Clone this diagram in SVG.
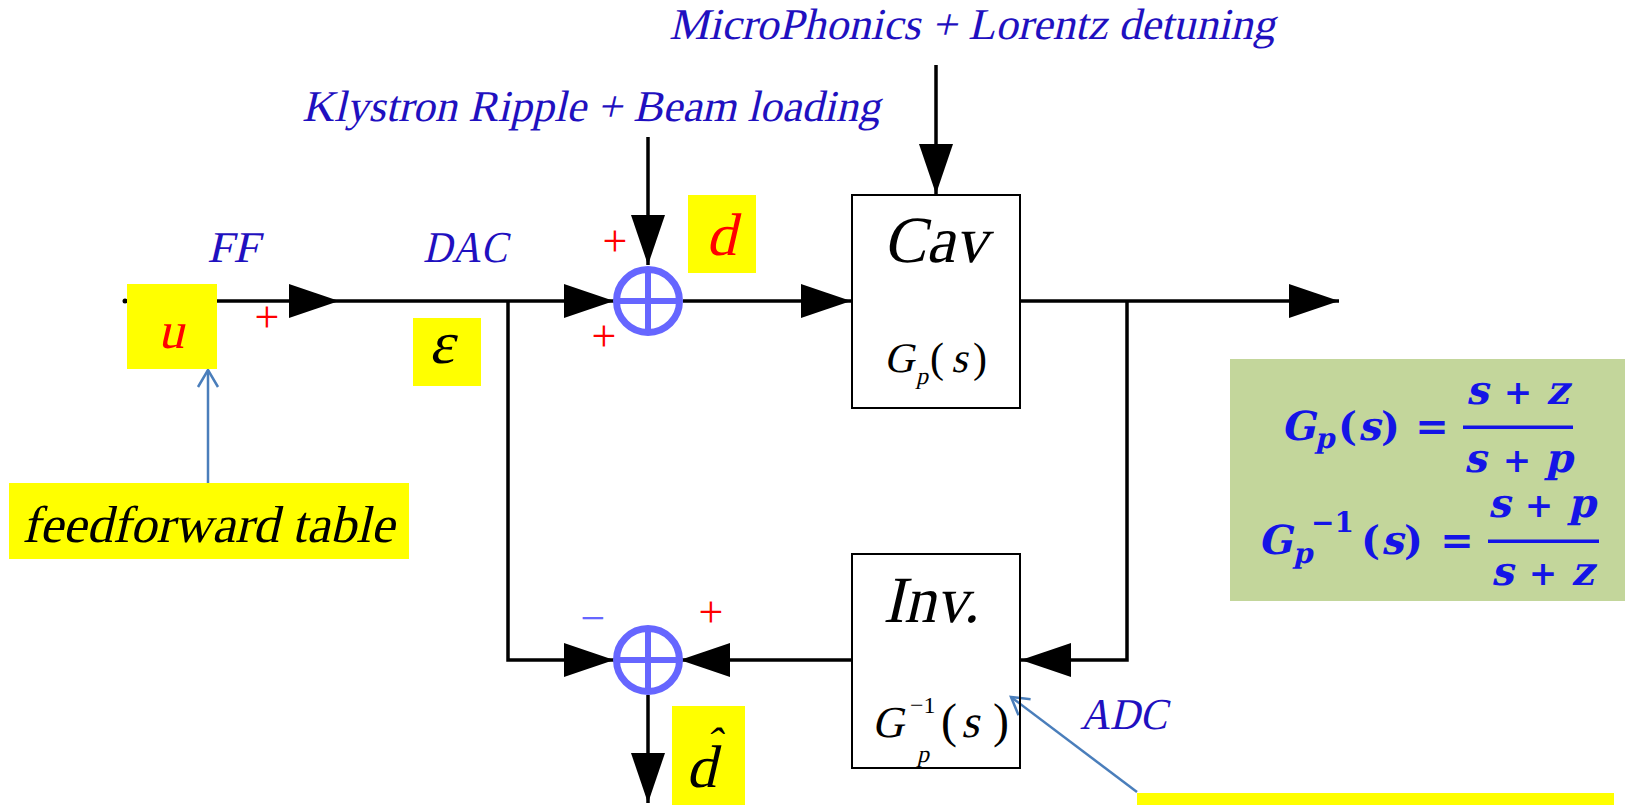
<svg xmlns="http://www.w3.org/2000/svg" width="1625" height="805" viewBox="0 0 1625 805">
<style>
.ln{stroke:#000;stroke-width:3.5;fill:none}
.bx{stroke:#000;stroke-width:2;fill:none}
.sum{stroke:#6666ff;stroke-width:7;fill:none}
.crs{stroke:#6666ff;stroke-width:6}
.blue{stroke:#4a7ebb;stroke-width:2.5;fill:none}
.yl{fill:#ffff00}
.ti{font-family:"Liberation Serif",serif;font-style:normal;fill:#000}
.up{font-family:"Liberation Serif",serif;fill:#000}
.lab{fill:#1f10c0;font-size:44px}
.pl{font-family:"Liberation Serif",serif;font-size:44px;fill:#ff0000}
.eq{font-family:"DejaVu Serif",serif;font-weight:bold;fill:#1414e6}
</style>
<defs>
<marker id="ah" markerUnits="userSpaceOnUse" markerWidth="50" markerHeight="34" refX="50" refY="17" orient="auto" viewBox="0 0 50 34"><path d="M0,0 L50,17 L0,34 z" fill="#000"/></marker>
<marker id="oa" markerUnits="userSpaceOnUse" markerWidth="24" markerHeight="24" refX="20" refY="12" orient="auto" viewBox="0 0 24 24" overflow="visible"><path d="M3,2 L20,12 L3,22" fill="none" stroke="#4a7ebb" stroke-width="2.5"/></marker>
</defs>
<rect width="1625" height="805" fill="#fff"/>

<g id="labels">
<text class="ti lab" transform="translate(669,39) skewX(-13)" textLength="606" lengthAdjust="spacingAndGlyphs">MicroPhonics + Lorentz detuning</text>
<text class="ti lab" transform="translate(302,121) skewX(-13)" font-size="45" textLength="578" lengthAdjust="spacingAndGlyphs">Klystron Ripple + Beam loading</text>
<text class="ti lab" transform="translate(207,262) skewX(-13)" textLength="52" lengthAdjust="spacingAndGlyphs">FF</text>
<text class="ti lab" transform="translate(423,262) skewX(-13)" textLength="84" lengthAdjust="spacingAndGlyphs">DAC</text>
<text class="ti lab" transform="translate(1080,729) skewX(-13)" textLength="87" lengthAdjust="spacingAndGlyphs">ADC</text>
</g>

<g id="connectors">
<circle cx="125" cy="301" r="2.5" fill="#000"/>
<line class="ln" x1="124" y1="301" x2="339" y2="301" marker-end="url(#ah)"/>
<line class="ln" x1="339" y1="301" x2="614" y2="301" marker-end="url(#ah)"/>
<polyline class="ln" points="508,301 508,660 614,660" marker-end="url(#ah)"/>
<line class="ln" x1="648" y1="137" x2="648" y2="265" marker-end="url(#ah)"/>
<line class="ln" x1="683" y1="301" x2="851" y2="301" marker-end="url(#ah)"/>
<line class="ln" x1="936" y1="65" x2="936" y2="194" marker-end="url(#ah)"/>
<line class="ln" x1="1020" y1="301" x2="1339" y2="301" marker-end="url(#ah)"/>
<polyline class="ln" points="1127,301 1127,660 1021,660" marker-end="url(#ah)"/>
<line class="ln" x1="852" y1="660" x2="680" y2="660" marker-end="url(#ah)"/>
<line class="ln" x1="648" y1="695" x2="648" y2="803" marker-end="url(#ah)"/>
<line class="blue" x1="208" y1="483" x2="208" y2="370" marker-end="url(#oa)"/>
<line class="blue" x1="1137" y1="792" x2="1011" y2="697" marker-end="url(#oa)"/>
</g>

<g id="u">
<rect class="yl" x="127" y="284" width="90" height="85"/>
<text class="ti" transform="translate(158,348) skewX(-13)" font-size="52" style="fill:#ff0000">u</text>
<text class="pl" x="267" y="332" text-anchor="middle">+</text>
</g>

<g id="epsilon">
<rect class="yl" x="413" y="318" width="68" height="68"/>
<text class="ti" transform="translate(429,363) skewX(-13)" font-size="60">ε</text>
</g>

<g id="sum1">
<circle class="sum" cx="648" cy="301" r="31.5"/>
<line class="crs" x1="617" y1="301" x2="679" y2="301"/>
<line class="crs" x1="648" y1="270" x2="648" y2="332"/>
<text class="pl" x="615" y="256" text-anchor="middle">+</text>
<text class="pl" x="604" y="351" text-anchor="middle">+</text>
</g>

<g id="d">
<rect class="yl" x="688" y="195" width="68" height="78"/>
<text class="ti" transform="translate(706,255) skewX(-13)" font-size="60" style="fill:#ff0000">d</text>
</g>

<g id="cav">
<rect class="bx" x="852" y="195" width="168" height="213"/>
<text class="ti" transform="translate(883,262) skewX(-13)" font-size="66" textLength="104" lengthAdjust="spacingAndGlyphs">Cav</text>
<text class="ti" transform="translate(884,372) skewX(-13)" font-size="42">G</text>
<text class="ti" transform="translate(916,384) skewX(-13)" font-size="24">p</text>
<text class="up" x="930" y="372" font-size="42">(</text>
<text class="ti" transform="translate(951,372) skewX(-13)" font-size="42">s</text>
<text class="up" x="973" y="372" font-size="42">)</text>
</g>

<g id="inv">
<rect class="bx" x="852" y="554" width="168" height="214"/>
<text class="ti" transform="translate(883,622) skewX(-13)" font-size="66" textLength="96" lengthAdjust="spacingAndGlyphs">Inv.</text>
<text class="ti" transform="translate(872,737) skewX(-13)" font-size="44">G</text>
<text class="up" x="910" y="713" font-size="24">−1</text>
<text class="ti" transform="translate(917,762) skewX(-13)" font-size="24">p</text>
<text class="up" x="941" y="737" font-size="48">(</text>
<text class="ti" transform="translate(961,737) skewX(-13)" font-size="46">s</text>
<text class="up" x="993" y="737" font-size="48">)</text>
</g>

<g id="sum2">
<circle class="sum" cx="648" cy="660" r="31.5"/>
<line class="crs" x1="617" y1="660" x2="679" y2="660"/>
<line class="crs" x1="648" y1="629" x2="648" y2="691"/>
<text class="up" x="593" y="633" font-size="44" style="fill:#6666ff" text-anchor="middle">−</text>
<text class="pl" x="711" y="627" text-anchor="middle">+</text>
</g>

<g id="dhat">
<rect class="yl" x="672" y="706" width="73" height="99"/>
<text class="ti" transform="translate(686,787) skewX(-13)" font-size="60">d<tspan x="12" y="-29" font-size="44">ˆ</tspan></text>
</g>

<g id="feedforward">
<rect class="yl" x="9" y="483" width="400" height="76"/>
<text class="ti" transform="translate(22,542) skewX(-13)" font-size="52" textLength="372" lengthAdjust="spacingAndGlyphs">feedforward table</text>
</g>

<g id="adcnote">
<rect class="yl" x="1137" y="793" width="477" height="12"/>
</g>

<g id="equations">
<rect x="1230" y="359" width="395" height="242" fill="#c3d69b"/>
<text class="eq" transform="translate(1281,440) skewX(-13)" font-size="40">G</text>
<text class="eq" transform="translate(1315,448) skewX(-13)" font-size="28">p</text>
<text class="eq" x="1338" y="440" font-size="40" font-weight="normal">(</text>
<text class="eq" transform="translate(1358,440) skewX(-13)" font-size="40">s</text>
<text class="eq" x="1381" y="440" font-size="40" font-weight="normal">)</text>
<text class="eq" x="1432" y="440" font-size="40" text-anchor="middle">=</text>
<text class="eq" transform="translate(1466,404) skewX(-13)" font-size="40">s</text>
<text class="eq" x="1518" y="404" font-size="34" text-anchor="middle">+</text>
<text class="eq" transform="translate(1546,404) skewX(-13)" font-size="40">z</text>
<rect x="1463" y="425.5" width="110" height="3.5" fill="#1414e6"/>
<text class="eq" transform="translate(1464,472) skewX(-13)" font-size="40">s</text>
<text class="eq" x="1517" y="472" font-size="34" text-anchor="middle">+</text>
<text class="eq" transform="translate(1545,472) skewX(-13)" font-size="40">p</text>

<text class="eq" transform="translate(1258,554) skewX(-13)" font-size="40">G</text>
<text class="eq" transform="translate(1293,563) skewX(-13)" font-size="28">p</text>
<text class="eq" x="1311" y="532" font-size="28">−1</text>
<text class="eq" x="1361" y="554" font-size="40" font-weight="normal">(</text>
<text class="eq" transform="translate(1381,554) skewX(-13)" font-size="40">s</text>
<text class="eq" x="1404" y="554" font-size="40" font-weight="normal">)</text>
<text class="eq" x="1457" y="554" font-size="40" text-anchor="middle">=</text>
<text class="eq" transform="translate(1488,517) skewX(-13)" font-size="40">s</text>
<text class="eq" x="1539" y="517" font-size="34" text-anchor="middle">+</text>
<text class="eq" transform="translate(1568,517) skewX(-13)" font-size="40">p</text>
<rect x="1488" y="539.5" width="111" height="3.5" fill="#1414e6"/>
<text class="eq" transform="translate(1491,585) skewX(-13)" font-size="40">s</text>
<text class="eq" x="1543" y="585" font-size="34" text-anchor="middle">+</text>
<text class="eq" transform="translate(1571,585) skewX(-13)" font-size="40">z</text>
</g>
</svg>
